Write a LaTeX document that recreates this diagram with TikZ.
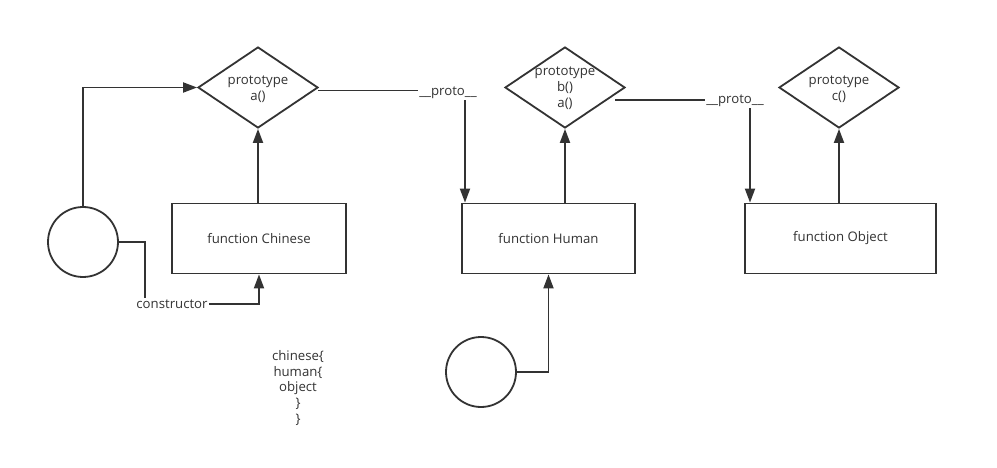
\documentclass[tikz,border=0pt]{standalone}
\usepackage{fontspec}
\setmainfont{Open Sans}
\usetikzlibrary{shapes.geometric,arrows.meta}
\definecolor{ink}{HTML}{333333}
\begin{document}
\begin{tikzpicture}[x=1pt,y=-1pt,
  txt/.style={text=ink, font=\fontsize{13.2}{16}\selectfont, align=center, inner sep=0pt},
  box/.style={draw=ink, line width=1.8pt, inner sep=0pt, minimum height=70pt, txt},
  dia/.style={diamond, draw=ink, line width=1.8pt, inner sep=0pt, minimum width=120pt, minimum height=81pt},
  circ/.style={circle, draw=ink, line width=1.8pt, inner sep=0pt, minimum size=70pt},
  arr/.style={draw=ink, line width=1.8pt, -{Triangle[length=14pt,width=10pt]}},
  lbl/.style={txt, fill=white, inner sep=1.5pt}
]
\fill[white] (0,0) rectangle (997,468);
\useasboundingbox (0,0) rectangle (997,468);

% nodes
\node[circ] (c1) at (83,242) {};
\node[circ] (c2) at (481,372) {};
\node[box, minimum width=174pt] (chinese) at (259,238.5) {function Chinese};
\node[box, minimum width=173pt] (human) at (548.5,238.5) {function Human};
\node[box, minimum width=191pt] (object) at (840.5,238.5) {function Object};
\node[dia] (d1) at (258,87.5) {};
\node[dia] (d2) at (565,87.5) {};
\node[dia] (d3) at (839,87.5) {};
\node[txt] (t1) at (258,89) {prototype\\a()};
\node[txt] (t2) at (565,88) {prototype\\b()\\a()};
\node[txt] (t3) at (839,89) {prototype\\c()};
\node[txt, font=\fontsize{13.2}{15.7}\selectfont] (code) at (298,388) {chinese\{\\human\{\\object\\\}\\\}};

% helper coordinates
\coordinate (k1) at (145,304);
\coordinate (s2) at (318,90.5);
\coordinate (k2) at (465,90.5);
\coordinate (s3) at (615,100);
\coordinate (k3) at (750,100);

% connectors
\draw[arr] (c1.north) |- (d1.west);
\draw[arr] (chinese.north -| d1.south) -- (d1.south);
\draw[arr] (c1.east) -| (k1) -| (chinese.south);
\draw[arr] (s2) -- (k2) -- (k2 |- human.north);
\draw[arr] (human.north -| d2.south) -- (d2.south);
\draw[arr] (s3) -- (k3) -- (k3 |- object.north);
\draw[arr] (object.north -| d3.south) -- (d3.south);
\draw[arr] (c2.east) -| (human.south);

% labels on connectors
\node[lbl] (ctor) at (172,304) {constructor};
\node[lbl] (p1) at (448,93) {\_\_proto\_\_};
\node[lbl] (p2) at (735,101) {\_\_proto\_\_};
\end{tikzpicture}
\end{document}
